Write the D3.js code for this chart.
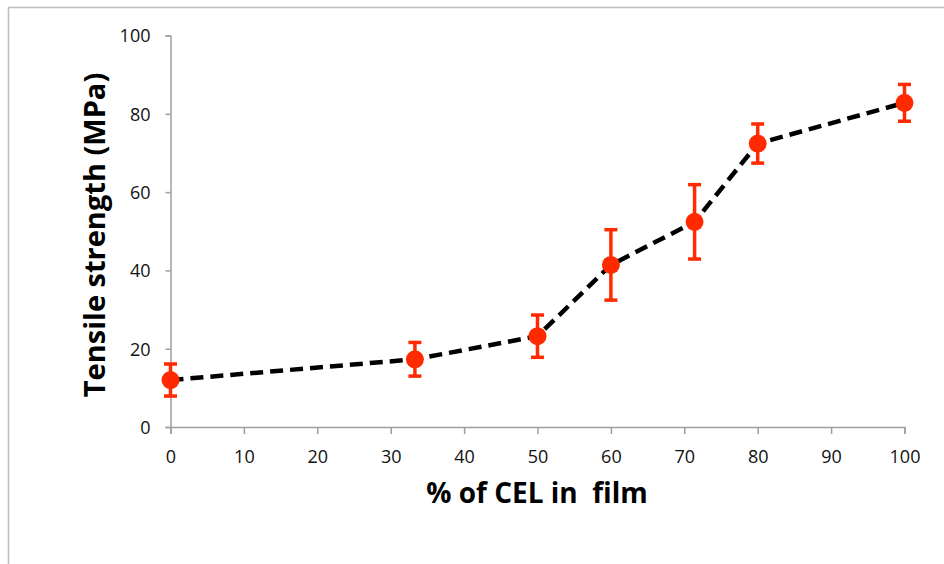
<!DOCTYPE html>
<html>
<head>
<meta charset="utf-8">
<script src="https://cdn.jsdelivr.net/npm/d3@7"></script>
<style>
  body { margin: 0; background: #fff; }
  svg { display: block; }
</style>
</head>
<body>
<div id="chart"></div>
<script>
// % of CEL in film
const celPercent = [0, 33.3, 50, 60, 71.4, 80, 100];
// tensile strength (MPa) and error
const strength = [12.0, 17.3, 23.2, 41.4, 52.4, 72.4, 82.8];
const strengthErr = [4.1, 4.3, 5.4, 9.0, 9.5, 5.0, 4.7];
const xTicks = [0, 10, 20, 30, 40, 50, 60, 70, 80, 90, 100];
const yTicks = [0, 20, 40, 60, 80, 100];

const W = 944, H = 564;
const margin = { top: 35.5, right: 39.5, bottom: 137, left: 170.5 };
const width = W - margin.left - margin.right;
const height = H - margin.top - margin.bottom;

const svg = d3.select("#chart").append("svg")
    .attr("width", W)
    .attr("height", H);

// outer frame
svg.append("path")
    .attr("d", `M8.5,${H} V7.5 H${W}`)
    .attr("fill", "none")
    .attr("stroke", "#bdbdbd")
    .attr("stroke-width", 1.5);

const g = svg.append("g")
    .attr("transform", "translate(" + margin.left + "," + margin.top + ")");

const x = d3.scaleLinear().domain([0, 100]).range([0, width]);
const y = d3.scaleLinear().domain([0, 100]).range([height, 0]);

const font = "'Open Sans', 'Liberation Sans', sans-serif";

const xAxis = g.append("g")
    .attr("transform", "translate(0," + height + ")")
    .call(d3.axisBottom(x).tickValues(xTicks).tickSize(7).tickPadding(16).tickFormat(d3.format("d")));

const yAxis = g.append("g")
    .call(d3.axisLeft(y).tickValues(yTicks).tickSize(5).tickPadding(15).tickFormat(d3.format("d")));

[xAxis, yAxis].forEach(a => {
    a.select(".domain").attr("stroke", "#9e9e9e").attr("stroke-width", 1.5);
    a.selectAll(".tick line").attr("stroke", "#9e9e9e").attr("stroke-width", 1.5);
    a.selectAll(".tick text")
        .attr("fill", "#111")
        .style("font-family", font)
        .style("font-size", "18px");
});
yAxis.selectAll(".tick text").attr("dy", "0.36em");

// axis titles
svg.append("text")
    .attr("x", 537)
    .attr("y", 503)
    .attr("text-anchor", "middle")
    .style("font-family", font)
    .style("font-weight", "bold")
    .style("font-size", "28px")
    .style("white-space", "pre")
    .attr("fill", "#000")
    .text("% of CEL in  film");

svg.append("text")
    .attr("transform", "translate(105,235) rotate(-90)")
    .attr("text-anchor", "middle")
    .style("font-family", font)
    .style("font-weight", "bold")
    .style("font-size", "29px")
    .attr("fill", "#000")
    .text("Tensile strength (MPa)");

const data = celPercent.map((c, i) => ({ x: c, y: strength[i], e: strengthErr[i] }));

// dashed line
g.append("path")
    .datum(data)
    .attr("fill", "none")
    .attr("stroke", "#000")
    .attr("stroke-width", 4.5)
    .attr("stroke-dasharray", "13,7")
    .attr("d", d3.line().x(d => x(d.x)).y(d => y(d.y)));

const red = "#ff2a00";

// error bars
const eb = g.selectAll(".err").data(data).enter().append("g").attr("class", "err");
eb.append("line")
    .attr("x1", d => x(d.x)).attr("x2", d => x(d.x))
    .attr("y1", d => y(d.y + d.e)).attr("y2", d => y(d.y - d.e))
    .attr("stroke", red).attr("stroke-width", 3.5);
eb.append("line")
    .attr("x1", d => x(d.x) - 6.5).attr("x2", d => x(d.x) + 6.5)
    .attr("y1", d => y(d.y + d.e)).attr("y2", d => y(d.y + d.e))
    .attr("stroke", red).attr("stroke-width", 3.5);
eb.append("line")
    .attr("x1", d => x(d.x) - 6.5).attr("x2", d => x(d.x) + 6.5)
    .attr("y1", d => y(d.y - d.e)).attr("y2", d => y(d.y - d.e))
    .attr("stroke", red).attr("stroke-width", 3.5);

// markers
g.selectAll(".dot").data(data).enter().append("circle")
    .attr("class", "dot")
    .attr("cx", d => x(d.x))
    .attr("cy", d => y(d.y))
    .attr("r", 9)
    .attr("fill", red);
</script>
</body>
</html>
